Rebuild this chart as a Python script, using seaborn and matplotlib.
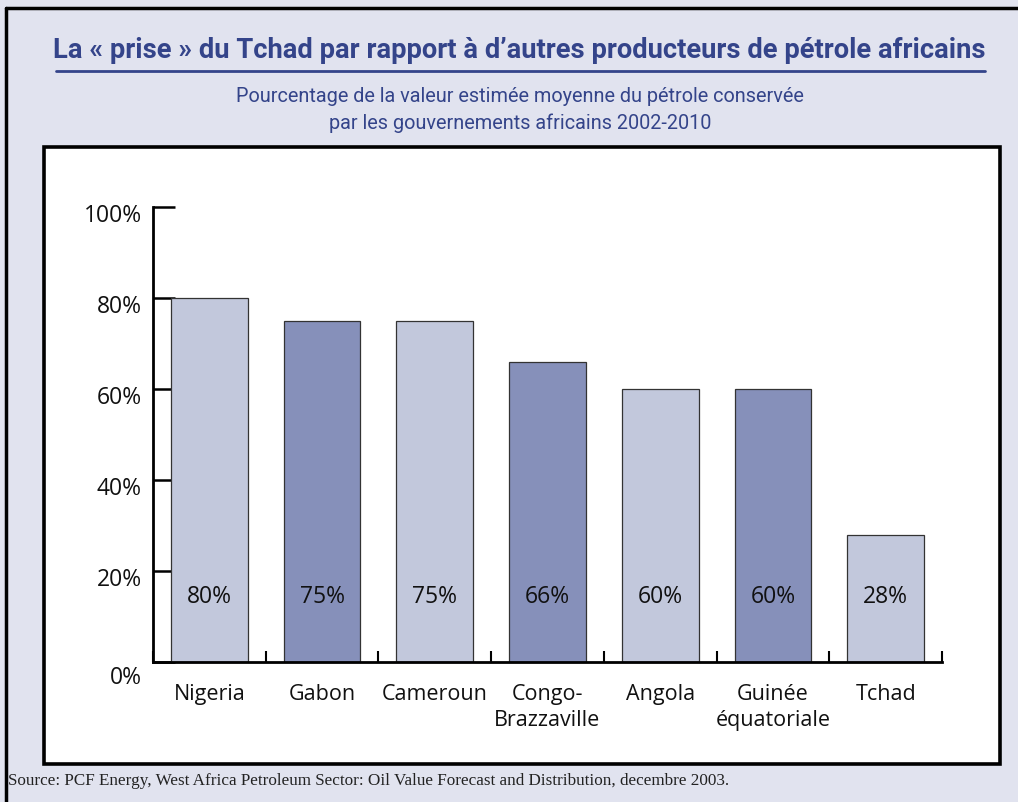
import matplotlib
matplotlib.use("Agg")
import matplotlib.pyplot as plt
from matplotlib.patches import Rectangle
from matplotlib.lines import Line2D
from matplotlib.transforms import ScaledTranslation
import seaborn as sns
import pandas as pd

# Data
countries = ["Nigeria", "Gabon", "Cameroun", "Congo-\nBrazzaville", "Angola",
             "Guinée\néquatoriale", "Tchad"]
share_pct = [80, 75, 75, 66, 60, 60, 28]
value_labels = ["80%", "75%", "75%", "66%", "60%", "60%", "28%"]
ytick_values = [0, 20, 40, 60, 80, 100]
ytick_labels = ["0%", "20%", "40%", "60%", "80%", "100%"]

title = "La « prise » du Tchad par rapport à d’autres producteurs de pétrole africains"
subtitle = ("Pourcentage de la valeur estimée moyenne du pétrole conservée\n"
            "par les gouvernements africains 2002-2010")
source = ("Source: PCF Energy, West Africa Petroleum Sector: Oil Value Forecast and "
          "Distribution, decembre 2003.")

LIGHT = "#c2c8dc"
DARK = "#8690ba"
NAVY = "#34448a"
PANEL_BG = "#e1e3ef"

sns.set_theme(style="white")
plt.rcParams["font.family"] = ["Open Sans", "DejaVu Sans"]

W, H = 1018, 803
fig = plt.figure(figsize=(W / 100, H / 100), dpi=100)
fig.patch.set_facecolor(PANEL_BG)

def fx(px):
    return px / W

def fy(py):
    return 1 - py / H

# Outer frame (top and left edges)
fig.add_artist(Line2D([fx(6), fx(W)], [fy(9), fy(9)], color="black", lw=2.5,
                      transform=fig.transFigure))
fig.add_artist(Line2D([fx(6), fx(6)], [fy(9), fy(H)], color="black", lw=2.5,
                      transform=fig.transFigure))

# White chart panel with heavy black border
fig.add_artist(Rectangle((fx(44), fy(765)), fx(1000 - 44), (765 - 148) / H,
                         transform=fig.transFigure, facecolor="white",
                         edgecolor="black", lw=2.6, zorder=0))

# Title, rule and subtitle
fig.text(fx(519), fy(50), title, ha="center", va="center", fontsize=19.7,
         fontweight="bold", color=NAVY, family=["Roboto", "DejaVu Sans"])
fig.add_artist(Line2D([fx(56), fx(985)], [fy(72), fy(72)], color=NAVY, lw=2,
                      transform=fig.transFigure))
fig.text(fx(520), fy(110), subtitle, ha="center", va="center", fontsize=14.3,
         color=NAVY, linespacing=1.5, family=["Roboto", "DejaVu Sans"])

# Bar chart
ax = fig.add_axes([fx(153), (H - 663) / H, fx(942 - 153), (663 - 208) / H])
ax.set_facecolor("none")
df = pd.DataFrame({"country": countries, "share": share_pct})
palette = [LIGHT if i % 2 == 0 else DARK for i in range(len(countries))]
sns.barplot(data=df, x="country", y="share", hue="country", palette=palette,
            legend=False, width=0.68, edgecolor="#333333", linewidth=0.9,
            saturation=1, ax=ax)

for i, lab in enumerate(value_labels):
    ax.text(i, 14.5, lab, ha="center", va="center", fontsize=16.5,
            color="#111111")

ax.set_xlim(-0.5, len(countries) - 0.5)
ax.set_ylim(0, 100)
ax.set_xlabel("")
ax.set_ylabel("")

for s in ["top", "right"]:
    ax.spines[s].set_visible(False)
for s in ["left", "bottom"]:
    ax.spines[s].set_color("black")
    ax.spines[s].set_linewidth(2)

ax.set_yticks(ytick_values)
ax.set_yticklabels(ytick_labels, fontsize=16.5, color="#111111")
ax.tick_params(axis="y", direction="in", length=16, width=1.8, color="black",
               pad=8, left=True)
for k, lbl in enumerate(ax.get_yticklabels()):
    shift = -0.12 if k == 0 else -0.05
    lbl.set_transform(lbl.get_transform()
                      + ScaledTranslation(0, shift, fig.dpi_scale_trans))

ax.set_xticks(range(len(countries)))
ax.set_xticklabels(countries, fontsize=15.5, color="#111111", linespacing=1.3,
                   va="top")
ax.tick_params(axis="x", length=0, pad=15, bottom=False)
ax.set_xticks([i - 0.5 for i in range(len(countries) + 1)], minor=True)
ax.tick_params(axis="x", which="minor", direction="in", length=8, width=1.5,
               color="black", bottom=True)

fig.text(fx(8), fy(781), source, ha="left", va="center", fontsize=12.3,
         color="#222222", family=["Liberation Serif", "DejaVu Serif"])

fig.savefig("out.png", dpi=100, facecolor=fig.get_facecolor())
